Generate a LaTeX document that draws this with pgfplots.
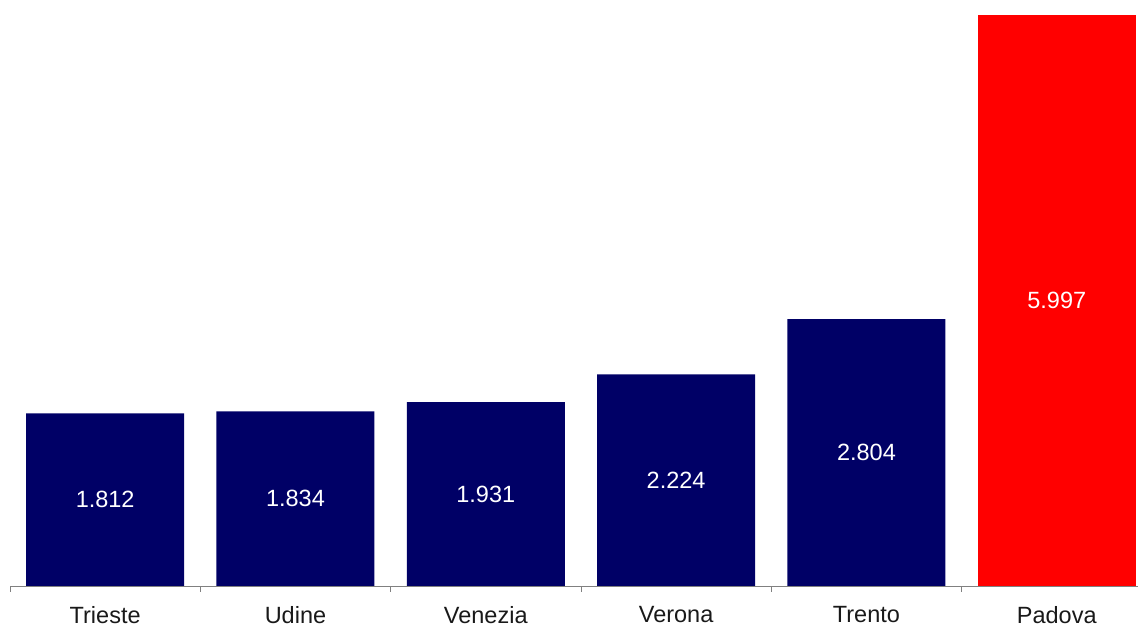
\documentclass[border=0pt]{standalone}
\usepackage{pgfplots}
\usepackage{pgfplotstable}
\pgfplotsset{compat=1.18}
\usepackage{fontspec}
\setmainfont{Liberation Sans}
\definecolor{navybar}{RGB}{0,0,102}
\definecolor{redbar}{RGB}{255,0,0}

\pgfplotstableread{
x v
0 1812
1 1834
2 1931
3 2224
4 2804
5 5997
}\citta

\begin{document}
\begin{tikzpicture}
\begin{axis}[
    scale only axis,
    width=564pt, height=293pt,
    xmin=-0.5, xmax=5.427,
    ymin=0, ymax=6155,
    axis y line=none, axis x line=bottom,
    x axis line style={-, draw=gray},
    ybar, bar width=0.83, bar shift=0pt,
    xtick={0,...,5},
    xticklabels={Trieste,Udine,Venezia,Verona,Trento,Padova},
    major tick length=0pt,
    minor xtick={-0.5,0.5,1.5,2.5,3.5,4.5},
    minor tick length=3pt,
    minor x tick style={draw=gray},
    tick align=outside,
    xticklabel style={yshift=-6.6pt, text=black!90},
    font=\fontsize{11.75}{14}\selectfont,
    /pgf/number format/assume math mode=true,
    clip=false,
]
\addplot[fill=navybar, draw=none, restrict x to domain=0:4]
    table[x=x, y=v] {\citta};
\addplot[fill=redbar, draw=none, restrict x to domain=5:5]
    table[x=x, y=v] {\citta};
% etichette a meta' barra
\addplot[draw=none, fill=none, point meta=explicit,
    nodes near coords={\pgfmathprintnumber[fixed, precision=0, 1000 sep={.}, assume math mode=true]{\pgfplotspointmeta}},
    every node near coord/.style={anchor=center, text=white,
        font=\fontsize{11.75}{14}\selectfont}]
    table[x=x, y expr=\thisrow{v}/2, meta=v] {\citta};
\coordinate (sw) at (rel axis cs:0,0);
\coordinate (ne) at (rel axis cs:1,1);
\end{axis}
\pgfresetboundingbox
\path (sw) ++(-5pt,-20pt) rectangle (ne);
\end{tikzpicture}
\end{document}
